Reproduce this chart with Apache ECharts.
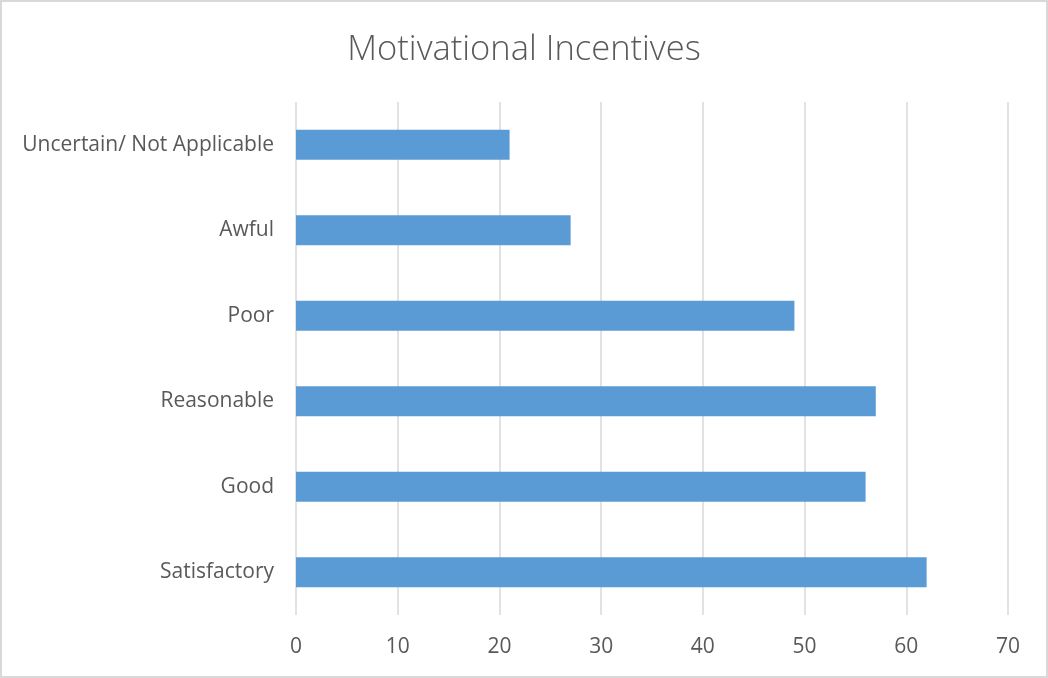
<!DOCTYPE html>
<html>
<head>
<meta charset="utf-8">
<script src="https://cdn.jsdelivr.net/npm/echarts@6/dist/echarts.min.js"></script>
<style>
  html, body { margin: 0; padding: 0; background: #fff; }
  #chart { width: 1048px; height: 678px; box-sizing: border-box; border: 2px solid #d9d9d9; }
</style>
</head>
<body>
<div id="chart"></div>
<script>
// Survey responses on motivational incentives (bottom to top on the axis)
const categories = ['Satisfactory', 'Good', 'Reasonable', 'Poor', 'Awful', 'Uncertain/ Not Applicable'];
const counts = [62, 56, 57, 49, 27, 21];
const xTicks = { min: 0, max: 70, interval: 10 };

const chart = echarts.init(document.getElementById('chart'));
chart.setOption({
  animation: false,
  title: {
    text: 'Motivational Incentives',
    left: 'center',
    top: 26,
    textStyle: { fontFamily: 'Open Sans', fontWeight: 300, fontSize: 34.5, color: '#595959' }
  },
  grid: { left: 294, right: 38, top: 100, bottom: 61 },
  xAxis: {
    type: 'value',
    min: xTicks.min,
    max: xTicks.max,
    interval: xTicks.interval,
    axisLine: { show: false },
    axisTick: { show: false },
    axisLabel: { margin: 22, fontFamily: 'Open Sans', fontSize: 21, color: '#595959' },
    splitLine: { lineStyle: { color: '#d9d9d9', width: 1.5 } }
  },
  yAxis: {
    type: 'category',
    data: categories,
    axisLine: { show: false },
    axisTick: { show: false },
    axisLabel: { margin: 22, fontFamily: 'Open Sans', fontSize: 21, color: '#595959' }
  },
  series: [{
    type: 'bar',
    data: counts,
    barWidth: '35%',
    itemStyle: { color: '#5b9bd5' }
  }]
});
</script>
</body>
</html>
